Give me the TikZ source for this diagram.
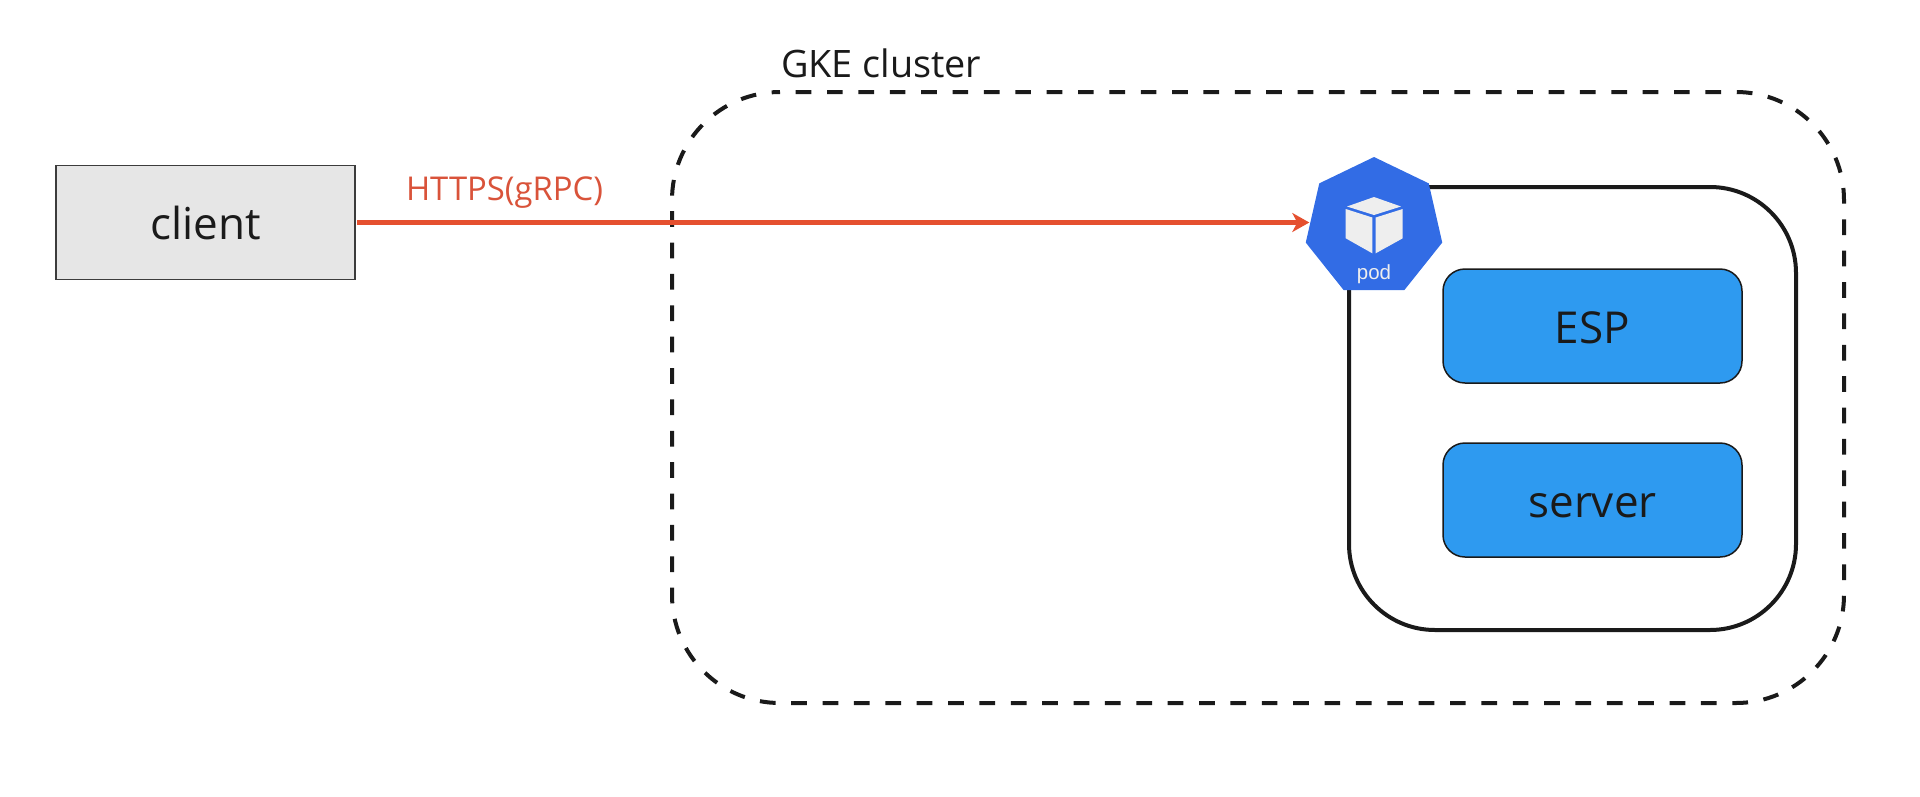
\documentclass[tikz,border=0pt]{standalone}
\usepackage{fontspec}
\setmainfont{Open Sans}
\newfontfamily\podfont{Liberation Sans}
\usetikzlibrary{shapes.geometric,arrows.meta}
\definecolor{inkdark}{HTML}{1A1A1A}
\definecolor{boxgrey}{HTML}{E6E6E6}
\definecolor{espblue}{HTML}{2E9AF0}
\definecolor{kubeblue}{HTML}{326CE5}
\definecolor{linkred}{HTML}{E5502F}
\definecolor{labelred}{HTML}{D9533A}
\definecolor{cubegrey}{HTML}{EEEEEE}
\tikzset{
  every node/.style={outer sep=0pt,inner sep=0pt,text=inkdark},
  clientbox/.style={draw=inkdark!85,line width=1.5pt,fill=boxgrey,minimum width=299pt,minimum height=114pt,font=\fontsize{44}{50}\selectfont,text height=33pt,text depth=0pt},
  clusterline/.style={draw=inkdark,line width=4pt,rounded corners=108pt,dash pattern=on 15.7pt off 15.67pt,dash phase=15.7pt},
  podbox/.style={draw=inkdark,line width=4pt,rounded corners=86pt,minimum width=447pt,minimum height=443pt},
  svcbox/.style={draw=inkdark,line width=1.5pt,fill=espblue,rounded corners=22pt,minimum width=299pt,minimum height=114pt,font=\fontsize{44}{50}\selectfont,text height=34pt,text depth=0pt},
  freelabel/.style={anchor=base west},
  hept/.style={shape=regular polygon,regular polygon sides=7,minimum size=140pt,fill=kubeblue},
  cubeface/.style={fill=cubegrey},
  linkarrow/.style={draw=linkred,line width=4.2pt,-{Stealth[length=17pt,width=19pt,inset=5pt]},shorten <=2pt}
}
\begin{document}
\begin{tikzpicture}[x=1pt,y=-1pt]
\useasboundingbox (0,0) rectangle (1920,796);
\draw[clusterline] (780,92) -- (1844,92) -- (1844,703) -- (672,703) -- (672,92) -- (780,92);
\node[freelabel,font=\fontsize{37.8}{44}\selectfont] (clusterlabel) at (781,77) {GKE cluster};
\node[podbox] (podframe) at (1572.5,408.5) {};
\node[hept] (pod) at (1374,227) {};
\node[svcbox] (esp) at (1592.5,326) {ESP};
\node[svcbox] (server) at (1592.5,500) {server};
\node[clientbox] (client) at (205.5,222.5) {client};
\draw[linkarrow] (client.east) -- (client.east -| pod.west);
\node[anchor=base,font=\fontsize{32.8}{38}\selectfont,text=labelred] (https) at (504.5,200.7) {HTTPS(gRPC)};
\fill[cubeface] (1374,197) -- (1401,206.5) -- (1374,215) -- (1347,206.5) -- cycle;
\fill[cubeface] (1345.7,209) -- (1372.3,217.5) -- (1372.3,253.3) -- (1345.7,238.3) -- cycle;
\fill[cubeface] (1402.7,209) -- (1375.7,217.5) -- (1375.7,253.3) -- (1402.7,238.3) -- cycle;
\node[anchor=base,font=\podfont\fontsize{20.5}{24}\selectfont,text=cubegrey] (podlabel) at (1374,279) {pod};
\end{tikzpicture}
\end{document}
